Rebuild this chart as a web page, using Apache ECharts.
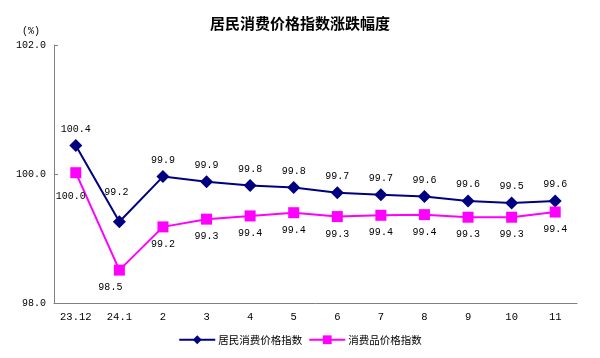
<!DOCTYPE html>
<html><head><meta charset="utf-8">
<script src="https://cdn.jsdelivr.net/npm/echarts@6/dist/echarts.min.js"></script>
<style>html,body{margin:0;padding:0;background:#fff}#c{width:600px;height:358px}</style>
</head><body><div id="c"></div>
<script>
const categories = ['23.12','24.1','2','3','4','5','6','7','8','9','10','11'];
const cpiName = '居民消费价格指数';
const cpiValues = [100.44, 99.26, 99.96, 99.88, 99.82, 99.79, 99.71, 99.68, 99.65, 99.58, 99.55, 99.58];
const cpiLabels = ['100.4','99.2','99.9','99.9','99.8','99.8','99.7','99.7','99.6','99.6','99.5','99.6'];
const goodsName = '消费品价格指数';
const goodsValues = [100.02, 98.51, 99.18, 99.30, 99.35, 99.40, 99.34, 99.36, 99.37, 99.33, 99.33, 99.41];
const goodsLabels = ['100.0','98.5','99.2','99.3','99.4','99.4','99.3','99.4','99.4','99.3','99.3','99.4'];
const yMin = 98, yMax = 102, yStep = 2;

const numFont = '"Liberation Mono", "DejaVu Sans Mono", monospace';
const cjkFont = '"Noto Sans CJK SC", sans-serif';

const cpiOffsets = {1: [-3, -13]};
const goodsOffsets = {0: [-5, 6], 1: [-9, 0]};

function build(values, offsets) {
  return values.map((v, i) => offsets[i] ? {value: v, label: {offset: offsets[i]}} : v);
}

const chart = echarts.init(document.getElementById('c'), null, {renderer: 'canvas'});
chart.setOption({
  animation: false,
  backgroundColor: '#fff',
  title: {
    text: '居民消费价格指数涨跌幅度', left: 'center', top: 11,
    textStyle: {fontFamily: cjkFont, fontSize: 15, fontWeight: 'bold', color: '#000'}
  },
  grid: {left: 54, right: 23, top: 45, bottom: 55, containLabel: false},
  legend: {
    bottom: 8, left: 'center', itemWidth: 36, itemHeight: 11, itemGap: 6,
    textStyle: {fontFamily: cjkFont, fontSize: 10.5, color: '#000', padding: [0, 0, 0, -2]},
    data: [cpiName, goodsName]
  },
  xAxis: {
    type: 'category', data: categories, boundaryGap: true,
    axisLine: {lineStyle: {color: '#808080', width: 1}},
    axisTick: {inside: true, length: 5, lineStyle: {color: '#000'}},
    axisLabel: {fontFamily: numFont, fontSize: 10.5, color: '#000', margin: 9}
  },
  yAxis: {
    type: 'value', min: yMin, max: yMax, interval: yStep,
    name: '(%)', nameLocation: 'end', nameGap: 9,
    nameTextStyle: {fontFamily: numFont, fontSize: 10, color: '#000', align: 'right', padding: [0, 14, 0, 0]},
    splitLine: {show: false},
    axisLine: {show: true, lineStyle: {color: '#808080', width: 1}},
    axisTick: {show: true, inside: true, length: 4, lineStyle: {color: '#808080'}},
    axisLabel: {fontFamily: numFont, fontSize: 10, color: '#000', margin: 8, formatter: v => v.toFixed(1)}
  },
  series: [
    {
      name: cpiName, type: 'line', data: build(cpiValues, cpiOffsets),
      symbol: 'diamond', symbolSize: 13,
      lineStyle: {color: '#000080', width: 2}, itemStyle: {color: '#000080'},
      label: {show: true, position: 'top', distance: 5, fontFamily: numFont, fontSize: 10, color: '#000',
        formatter: p => cpiLabels[p.dataIndex]}
    },
    {
      name: goodsName, type: 'line', data: build(goodsValues, goodsOffsets),
      symbol: 'rect', symbolSize: 11,
      lineStyle: {color: '#FF00FF', width: 2}, itemStyle: {color: '#FF00FF'},
      label: {show: true, position: 'bottom', distance: 7, fontFamily: numFont, fontSize: 10, color: '#000',
        formatter: p => goodsLabels[p.dataIndex]}
    }
  ]
});
</script></body></html>
